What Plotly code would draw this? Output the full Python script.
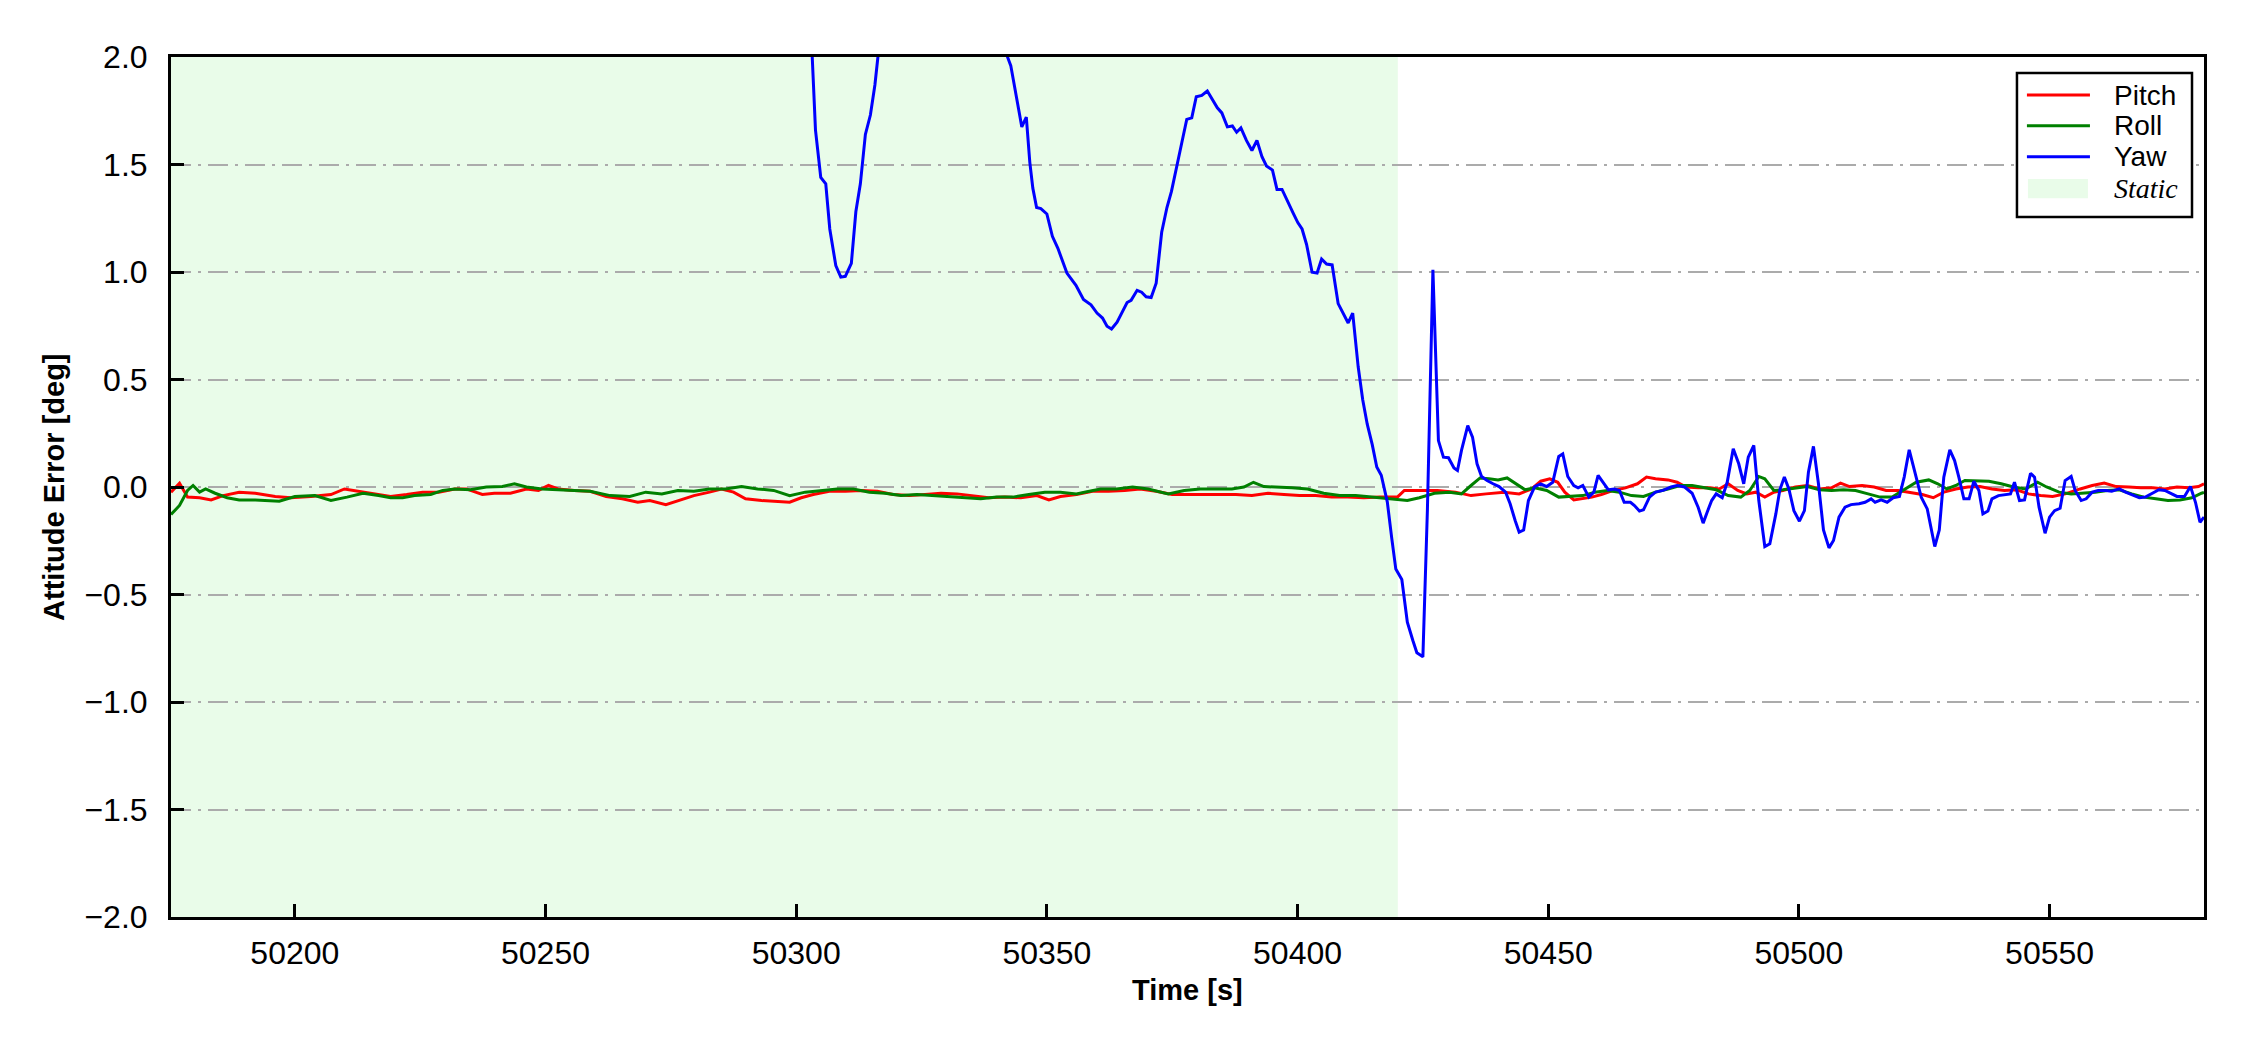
import plotly.graph_objects as go

# ---------------- data ----------------
pitch_t = [50175.3, 50177.0, 50178.6, 50181.0, 50183.3, 50185.7, 50188.9, 50192.1, 50196.1, 50199.2,
           50203.2, 50207.2, 50209.9, 50212.8, 50216.0, 50219.1, 50222.3, 50225.5, 50228.7, 50231.9,
           50234.2, 50237.4, 50239.8, 50243.0, 50246.2, 50248.6, 50250.6, 50252.5, 50255.7, 50258.9,
           50262.1, 50265.3, 50268.4, 50270.8, 50274.0, 50276.4, 50279.6, 50282.7, 50285.1, 50287.5,
           50289.9, 50293.1, 50296.3, 50298.7, 50301.0, 50303.4, 50306.6, 50309.8, 50313.0, 50316.2,
           50319.3, 50322.5, 50325.7, 50328.9, 50332.1, 50335.2, 50338.4, 50341.6, 50344.8, 50348.0,
           50350.4, 50352.7, 50355.9, 50359.1, 50362.3, 50365.5, 50368.6, 50371.8, 50375.0, 50378.2,
           50381.4, 50384.5, 50387.7, 50390.9, 50394.1, 50397.3, 50400.4, 50403.6, 50406.8, 50410.0,
           50413.2, 50416.4, 50420.0, 50421.3, 50424.3, 50427.9, 50431.5, 50434.6, 50437.6, 50441.2,
           50444.2, 50446.7, 50448.5, 50450.3, 50451.9, 50453.3, 50455.1, 50456.9, 50458.7, 50460.6,
           50463.0, 50465.4, 50467.8, 50469.6, 50471.4, 50473.9, 50475.7, 50477.5, 50479.9, 50482.3,
           50484.1, 50485.9, 50487.8, 50489.6, 50491.4, 50493.2, 50495.0, 50496.8, 50499.3, 50501.7,
           50504.1, 50506.5, 50508.3, 50510.1, 50512.6, 50515.0, 50517.4, 50519.8, 50522.2, 50524.6,
           50526.8, 50528.9, 50531.3, 50533.7, 50536.1, 50538.5, 50541.0, 50543.4, 50545.8, 50548.2,
           50550.6, 50553.1, 50556.1, 50558.5, 50560.9, 50563.3, 50565.8, 50568.2, 50570.6, 50573.0,
           50575.4, 50577.8, 50579.7, 50580.8]
pitch_v = [-0.024, 0.018, -0.047, -0.050, -0.060, -0.040, -0.024, -0.029, -0.044, -0.050,
           -0.044, -0.035, -0.009, -0.020, -0.035, -0.044, -0.035, -0.024, -0.024, -0.009,
           -0.009, -0.035, -0.029, -0.029, -0.009, -0.016, 0.007, -0.009, -0.016, -0.020,
           -0.044, -0.055, -0.071, -0.063, -0.082, -0.063, -0.040, -0.024, -0.009, -0.024,
           -0.055, -0.063, -0.066, -0.071, -0.050, -0.035, -0.020, -0.020, -0.016, -0.020,
           -0.035, -0.040, -0.035, -0.029, -0.032, -0.040, -0.050, -0.047, -0.050, -0.040,
           -0.060, -0.044, -0.035, -0.020, -0.020, -0.016, -0.009, -0.020, -0.035, -0.035,
           -0.035, -0.032, -0.035, -0.040, -0.029, -0.035, -0.040, -0.040, -0.047, -0.047,
           -0.050, -0.047, -0.045, -0.016, -0.016, -0.016, -0.024, -0.040, -0.032, -0.024,
           -0.032, -0.009, 0.027, 0.038, 0.022, -0.024, -0.060, -0.055, -0.047, -0.035,
           -0.016, -0.004, 0.015, 0.046, 0.038, 0.033, 0.022, 0.000, -0.004, -0.004,
           -0.009, 0.015, -0.016, -0.032, -0.024, -0.047, -0.024, -0.016, 0.000, 0.007,
           -0.009, -0.004, 0.018, 0.002, 0.007, 0.000, -0.016, -0.016, -0.024, -0.035,
           -0.050, -0.024, -0.009, 0.000, 0.002, -0.009, -0.016, -0.013, -0.032, -0.040,
           -0.044, -0.032, -0.009, 0.007, 0.018, 0.002, 0.000, -0.004, -0.004, -0.009,
           0.000, -0.004, 0.002, 0.015]

roll_t = [50175.3, 50177.0, 50178.6, 50179.7, 50181.0, 50182.2, 50184.1, 50186.5, 50188.9, 50192.1,
          50196.9, 50200.0, 50204.0, 50207.2, 50210.4, 50213.6, 50216.7, 50219.1, 50221.5, 50223.9,
          50227.1, 50229.5, 50231.9, 50235.0, 50238.2, 50241.4, 50243.8, 50246.2, 50249.3, 50252.5,
          50255.7, 50258.9, 50262.9, 50266.8, 50270.0, 50273.2, 50276.4, 50279.6, 50282.7, 50285.9,
          50289.1, 50292.3, 50295.5, 50298.7, 50301.8, 50305.0, 50308.2, 50311.4, 50314.6, 50317.7,
          50320.9, 50324.1, 50327.3, 50330.5, 50333.6, 50336.8, 50340.0, 50343.2, 50346.4, 50349.6,
          50352.7, 50355.9, 50357.5, 50360.7, 50363.9, 50367.1, 50370.2, 50374.2, 50377.4, 50380.6,
          50383.8, 50386.9, 50389.3, 50391.2, 50393.3, 50395.7, 50398.9, 50402.0, 50405.2, 50408.4,
          50411.6, 50414.8, 50418.0, 50420.0, 50421.9, 50424.3, 50427.3, 50430.3, 50432.7, 50434.6,
          50436.4, 50438.2, 50440.0, 50441.8, 50443.6, 50445.4, 50447.3, 50449.7, 50452.1, 50454.5,
          50456.9, 50459.3, 50461.8, 50464.2, 50466.6, 50469.0, 50471.4, 50473.9, 50476.3, 50478.7,
          50481.1, 50483.5, 50485.9, 50488.4, 50490.2, 50492.0, 50493.2, 50495.0, 50496.8, 50499.3,
          50501.7, 50504.1, 50506.5, 50508.9, 50511.3, 50513.8, 50516.2, 50518.6, 50521.0, 50523.4,
          50525.9, 50527.7, 50529.5, 50531.3, 50533.1, 50535.5, 50537.9, 50540.35, 50542.8, 50545.2,
          50547.6, 50549.4, 50551.9, 50554.3, 50556.7, 50559.1, 50561.5, 50563.9, 50566.4, 50568.8,
          50571.2, 50573.6, 50576.0, 50578.4, 50580.3, 50580.8]
roll_v = [-0.128, -0.086, -0.016, 0.007, -0.024, -0.009, -0.029, -0.050, -0.060, -0.060,
          -0.066, -0.044, -0.040, -0.063, -0.047, -0.029, -0.040, -0.050, -0.050, -0.040,
          -0.035, -0.016, -0.009, -0.013, 0.000, 0.002, 0.015, 0.000, -0.009, -0.013,
          -0.016, -0.020, -0.040, -0.044, -0.024, -0.032, -0.016, -0.020, -0.009, -0.009,
          0.002, -0.009, -0.016, -0.040, -0.024, -0.016, -0.009, -0.009, -0.024, -0.029,
          -0.040, -0.035, -0.040, -0.044, -0.050, -0.055, -0.047, -0.047, -0.035, -0.024,
          -0.024, -0.032, -0.024, -0.009, -0.009, 0.000, -0.009, -0.032, -0.016, -0.009,
          -0.009, -0.009, 0.000, 0.022, 0.002, 0.000, -0.004, -0.009, -0.029, -0.040,
          -0.040, -0.047, -0.055, -0.058, -0.063, -0.050, -0.029, -0.024, -0.032, 0.007,
          0.042, 0.038, 0.033, 0.042, 0.015, -0.013, -0.004, -0.016, -0.047, -0.044,
          -0.040, -0.024, -0.016, -0.024, -0.040, -0.044, -0.024, -0.009, 0.007, 0.007,
          -0.004, -0.013, -0.040, -0.047, -0.016, 0.049, 0.038, -0.016, -0.013, -0.004,
          0.002, -0.013, -0.016, -0.013, -0.016, -0.032, -0.047, -0.047, -0.013, 0.022,
          0.033, 0.015, -0.009, 0.007, 0.030, 0.030, 0.027, 0.015, 0.000, -0.009,
          0.022, 0.000, -0.024, -0.032, -0.029, -0.024, -0.016, -0.013, -0.032, -0.047,
          -0.055, -0.063, -0.060, -0.050, -0.029, -0.025]

yaw_t = [50296.0, 50302.5, 50303.2, 50303.85, 50304.9, 50305.9, 50306.7, 50307.9, 50308.9, 50309.8,
         50311.0, 50311.9, 50312.8, 50313.8, 50314.8, 50315.7, 50316.3, 50318.0, 50322.0, 50327.0,
         50332.0, 50337.0, 50340.5, 50342.15, 50342.8, 50343.9, 50345.0, 50345.9, 50346.6, 50347.2,
         50347.95, 50348.8, 50350.0, 50351.1, 50352.2, 50354.0, 50355.8, 50357.3, 50358.8, 50360.0,
         50361.1, 50362.0, 50362.9, 50364.0, 50365.05, 50366.0, 50366.8, 50368.0, 50368.9, 50369.8,
         50370.8, 50371.8, 50372.9, 50373.95, 50374.85, 50376.0, 50376.9, 50377.9, 50378.9, 50379.8,
         50380.9, 50382.0, 50382.9, 50384.0, 50384.9, 50386.0, 50387.0, 50387.85, 50388.7, 50389.8,
         50390.9, 50391.9, 50392.9, 50393.8, 50395.0, 50395.9, 50396.9, 50398.0, 50399.2, 50400.05,
         50400.9, 50401.8, 50402.9, 50403.9, 50404.8, 50405.8, 50406.9, 50408.1, 50409.0, 50410.1,
         50411.0, 50412.1, 50413.0, 50413.9, 50414.9, 50415.8, 50416.7, 50417.9, 50418.8, 50419.6,
         50420.8, 50421.9, 50423.0, 50423.8, 50425.0, 50425.9, 50427.0, 50428.1, 50429.1, 50430.1,
         50431.2, 50431.9, 50432.7, 50433.95, 50434.9, 50435.8, 50436.7, 50437.8, 50439.0, 50440.2,
         50441.5, 50442.4, 50443.4, 50444.2, 50445.1, 50446.05, 50447.3, 50448.5, 50449.7, 50450.9,
         50452.1, 50452.9, 50453.9, 50455.1, 50455.96, 50456.9, 50458.1, 50459.1, 50459.95, 50460.9,
         50462.0, 50463.2, 50464.2, 50465.15, 50466.4, 50467.2, 50468.2, 50469.0, 50470.2, 50471.4,
         50472.9, 50474.5, 50475.7, 50477.2, 50478.7, 50479.9, 50480.9, 50481.7, 50482.6, 50483.5,
         50484.7, 50485.7, 50486.9, 50488.0, 50489.0, 50489.9, 50491.0, 50492.0, 50493.2, 50494.2,
         50495.4, 50496.2, 50497.1, 50498.0, 50499.0, 50500.1, 50501.1, 50501.9, 50502.9, 50503.9,
         50504.9, 50506.0, 50506.9, 50508.0, 50509.2, 50510.4, 50512.0, 50513.2, 50514.4, 50515.2,
         50516.4, 50517.6, 50518.8, 50520.05, 50521.0, 50522.0, 50523.2, 50524.4, 50525.6, 50526.5,
         50527.1, 50528.0, 50528.9, 50530.1, 50531.05, 50531.9, 50532.9, 50533.95, 50534.9, 50535.9,
         50536.7, 50537.7, 50538.5, 50539.8, 50541.0, 50542.2, 50543.0, 50544.0, 50545.0, 50546.2,
         50547.0, 50547.9, 50549.1, 50550.0, 50551.0, 50552.1, 50553.1, 50554.3, 50555.1, 50556.3,
         50557.3, 50558.5, 50559.7, 50561.2, 50562.4, 50563.9, 50565.15, 50566.4, 50567.9, 50569.1,
         50570.3, 50571.8, 50573.0, 50574.2, 50575.4, 50576.9, 50578.1, 50579.1, 50580.0, 50580.8]
yaw_v = [3.00, 2.60, 2.00, 1.66, 1.44, 1.41, 1.20, 1.03, 0.976, 0.98,
         1.04, 1.28, 1.41, 1.64, 1.73, 1.87, 2.00, 2.30, 2.75, 3.05,
         3.10, 2.85, 2.40, 2.00, 1.96, 1.81, 1.675, 1.72, 1.51, 1.39,
         1.30, 1.295, 1.27, 1.166, 1.11, 0.995, 0.938, 0.872, 0.847, 0.809,
         0.786, 0.748, 0.735, 0.767, 0.815, 0.858, 0.868, 0.915, 0.906, 0.885,
         0.881, 0.948, 1.185, 1.30, 1.375, 1.51, 1.60, 1.71, 1.717, 1.815,
         1.821, 1.842, 1.808, 1.764, 1.74, 1.675, 1.679, 1.65, 1.67, 1.612,
         1.565, 1.612, 1.536, 1.493, 1.474, 1.384, 1.384, 1.327, 1.27, 1.23,
         1.20, 1.128, 0.999, 0.995, 1.06, 1.037, 1.033, 0.853, 0.809, 0.763,
         0.809, 0.558, 0.406, 0.292, 0.197, 0.093, 0.055, -0.069, -0.24, -0.382,
         -0.43, -0.629, -0.714, -0.771, -0.79, -0.107, 1.01, 0.216, 0.139, 0.136,
         0.089, 0.077, 0.17, 0.286, 0.232, 0.108, 0.049, 0.03, 0.015, 0.002,
         -0.024, -0.078, -0.156, -0.21, -0.20, -0.063, 0.002, 0.015, 0.002, 0.022,
         0.142, 0.154, 0.049, 0.007, -0.004, 0.007, -0.047, -0.024, 0.054, 0.022,
         -0.013, -0.009, -0.016, -0.071, -0.071, -0.086, -0.112, -0.106, -0.047, -0.024,
         -0.016, 0.000, 0.007, 0.000, -0.029, -0.094, -0.168, -0.117, -0.063, -0.032,
         -0.05, 0.022, 0.178, 0.108, 0.015, 0.139, 0.193, -0.063, -0.277, -0.264,
         -0.125, -0.013, 0.046, -0.009, -0.11, -0.159, -0.11, 0.069, 0.189, 0.015,
         -0.20, -0.283, -0.249, -0.14, -0.094, -0.082, -0.078, -0.071, -0.055, -0.071,
         -0.06, -0.071, -0.05, -0.044, 0.046, 0.173, 0.061, -0.047, -0.102, -0.20,
         -0.277, -0.20, 0.046, 0.173, 0.123, 0.046, -0.055, -0.055, 0.027, -0.016,
         -0.125, -0.112, -0.055, -0.04, -0.035, -0.032, 0.022, -0.063, -0.06, 0.064,
         0.046, -0.094, -0.215, -0.14, -0.11, -0.099, 0.03, 0.049, -0.016, -0.063,
         -0.055, -0.024, -0.016, -0.016, -0.02, -0.009, -0.024, -0.035, -0.05, -0.047,
         -0.032, -0.013, -0.016, -0.032, -0.044, -0.044, 0.002, -0.071, -0.164, -0.14]

static_start = 50175.3
static_end = 50420.0
x_range = [50175.3, 50580.8]
y_range = [-2.0, 2.0]
x_ticks = [50200, 50250, 50300, 50350, 50400, 50450, 50500, 50550]
y_ticks = [-2.0, -1.5, -1.0, -0.5, 0.0, 0.5, 1.0, 1.5, 2.0]

legend_names = ["Pitch", "Roll", "Yaw"]
colors = ["red", "green", "blue"]

# ---------------- figure ----------------
fig = go.Figure()
for name, tt, vv, c in [("Pitch", pitch_t, pitch_v, colors[0]),
                        ("Roll", roll_t, roll_v, colors[1]),
                        ("Yaw", yaw_t, yaw_v, colors[2])]:
    fig.add_trace(go.Scatter(x=tt, y=vv, mode="lines", name=name,
                             line=dict(color=c, width=3), showlegend=False))

fig.add_shape(type="rect", xref="x", yref="paper", x0=static_start, x1=static_end,
              y0=0, y1=1, fillcolor="rgb(233,252,233)", line_width=0, layer="below")

tick_font = dict(family="Liberation Sans, Arial, sans-serif", size=32, color="black")
fig.update_xaxes(range=x_range, tickvals=x_ticks, ticktext=[str(v) for v in x_ticks],
                 showgrid=False, zeroline=False, showline=True, linecolor="black", linewidth=3,
                 mirror=True, ticks="inside", ticklen=13, tickwidth=2.5, tickcolor="black",
                 tickfont=tick_font, ticklabelstandoff=6)
fig.update_yaxes(range=y_range, tickvals=y_ticks, tickformat=".1f",
                 showgrid=True, gridcolor="#ababab", gridwidth=2, griddash="20px,7px,3px,7px",
                 zeroline=False, showline=True, linecolor="black", linewidth=3,
                 mirror=True, ticks="inside", ticklen=13, tickwidth=2.5, tickcolor="black",
                 tickfont=tick_font, ticklabelstandoff=14)

title_font = dict(family="Liberation Sans Narrow, Arial Narrow, Liberation Sans, Arial", size=29, color="black")
fig.add_annotation(text="<b>Time [s]</b>", xref="paper", yref="paper", x=0.5, y=-0.0849,
                   xanchor="center", yanchor="middle", showarrow=False, font=title_font)
fig.add_annotation(text="<b>Attitude Error [deg]</b>", xref="paper", yref="paper", x=-0.0576, y=0.5,
                   xanchor="center", yanchor="middle", textangle=-90, showarrow=False, font=title_font)

# ---------------- legend (manual) ----------------
fig.add_shape(type="rect", xref="paper", yref="paper", x0=0.908, x1=0.9941, y0=0.814, y1=0.9814,
              fillcolor="white", line=dict(color="black", width=2.5), layer="above")
row_y = [0.9558, 0.9201, 0.8840]
for name, c, yy in zip(legend_names, colors, row_y):
    fig.add_shape(type="line", xref="paper", yref="paper", x0=0.9129, x1=0.9439, y0=yy, y1=yy,
                  line=dict(color=c, width=3), layer="above")
    fig.add_annotation(text=name, xref="paper", yref="paper", x=0.9547, y=yy, xanchor="left",
                       yanchor="middle", showarrow=False,
                       font=dict(family="Liberation Sans, Arial", size=28, color="black"))
fig.add_shape(type="rect", xref="paper", yref="paper", x0=0.9134, x1=0.9429, y0=0.8358, y1=0.8581,
              fillcolor="rgb(233,252,233)", line_width=0, layer="above")
fig.add_annotation(text="<i>Static</i>", xref="paper", yref="paper", x=0.9547, y=0.8473, xanchor="left",
                   yanchor="middle", showarrow=False,
                   font=dict(family="Liberation Serif, Times New Roman, serif", size=28, color="black"))

fig.update_layout(width=2250, height=1050, margin=dict(l=171, r=46, t=57, b=133),
                  paper_bgcolor="white", plot_bgcolor="white", showlegend=False)

fig.write_html("out.html", config={"displayModeBar": False},
               post_script="document.body.style.margin='0';")
